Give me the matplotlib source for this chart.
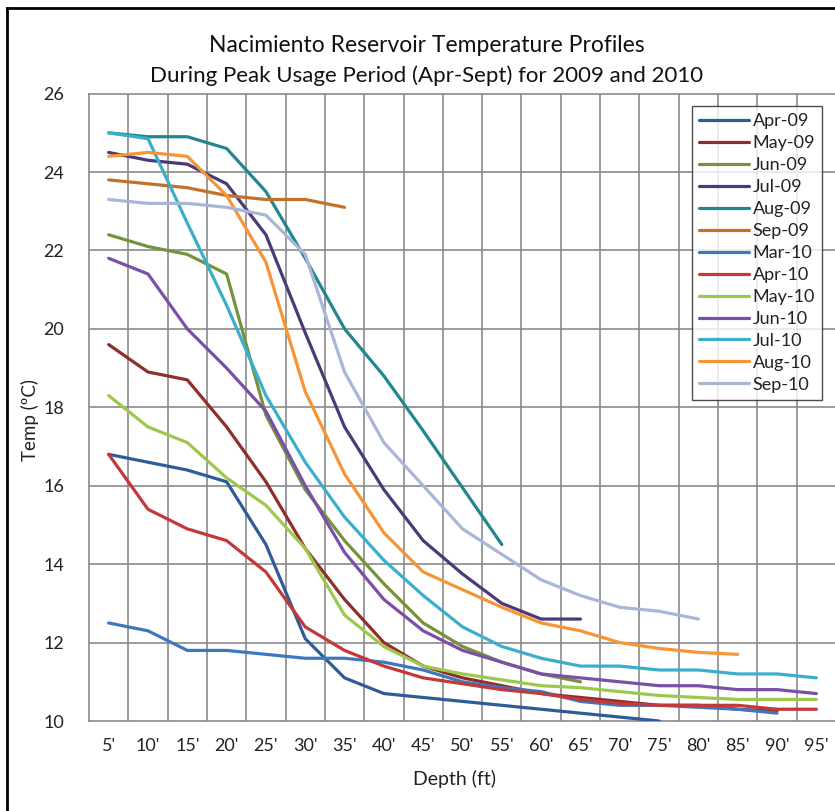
import numpy as np
import matplotlib
matplotlib.use("Agg")
import matplotlib.pyplot as plt
from matplotlib.lines import Line2D

plt.rcParams['font.family'] = ['Lato', 'DejaVu Sans']

# Depth categories (x axis)
depths = ["5'", "10'", "15'", "20'", "25'", "30'", "35'", "40'", "45'", "50'",
          "55'", "60'", "65'", "70'", "75'", "80'", "85'", "90'", "95'"]

# Temperature profiles (deg C), one value per depth, shorter lists stop early
apr09 = [16.8, 16.6, 16.4, 16.1, 14.5, 12.1, 11.1, 10.7, 10.6, 10.5, 10.4, 10.3, 10.2, 10.1, 10.0]
may09 = [19.6, 18.9, 18.7, 17.5, 16.1, 14.4, 13.1, 12.0, 11.4, 11.1, 10.9, 10.7, 10.6, 10.5,
         10.4, 10.4, 10.3, 10.25]
jun09 = [22.4, 22.1, 21.9, 21.4, 17.8, 15.9, 14.6, 13.5, 12.5, 11.9, 11.5, 11.2, 11.0]
jul09 = [24.5, 24.3, 24.2, 23.7, 22.4, 19.9, 17.5, 15.9, 14.6, 13.75, 13.0, 12.6, 12.6]
aug09 = [25.0, 24.9, 24.9, 24.6, 23.5, 21.8, 20.0, 18.8, 17.4, 15.95, 14.5]
sep09 = [23.8, 23.7, 23.6, 23.4, 23.3, 23.3, 23.1]
mar10 = [12.5, 12.3, 11.8, 11.8, 11.7, 11.6, 11.6, 11.5, 11.3, 11.0, 10.85, 10.75, 10.5, 10.4,
         10.4, 10.35, 10.3, 10.2]
apr10 = [16.8, 15.4, 14.9, 14.6, 13.8, 12.4, 11.8, 11.4, 11.1, 10.95, 10.8, 10.7, 10.55, 10.45,
         10.4, 10.4, 10.4, 10.3, 10.3]
may10 = [18.3, 17.5, 17.1, 16.2, 15.5, 14.4, 12.7, 11.9, 11.4, 11.2, 11.05, 10.9, 10.85, 10.75,
         10.65, 10.6, 10.55, 10.55, 10.55]
jun10 = [21.8, 21.4, 20.0, 19.0, 17.9, 16.0, 14.3, 13.1, 12.3, 11.8, 11.5, 11.2, 11.1, 11.0,
         10.9, 10.9, 10.8, 10.8, 10.7]
jul10 = [25.0, 24.85, 22.7, 20.6, 18.3, 16.6, 15.2, 14.1, 13.2, 12.4, 11.9, 11.6, 11.4, 11.4,
         11.3, 11.3, 11.2, 11.2, 11.1]
aug10 = [24.4, 24.5, 24.4, 23.4, 21.7, 18.4, 16.3, 14.8, 13.8, 13.35, 12.9, 12.5, 12.3, 12.0,
         11.85, 11.75, 11.7]
sep10 = [23.3, 23.2, 23.2, 23.1, 22.9, 21.9, 18.9, 17.1, 16.0, 14.9, 14.25, 13.6, 13.2, 12.9,
         12.8, 12.6]

series_names = ["Apr-09", "May-09", "Jun-09", "Jul-09", "Aug-09", "Sep-09", "Mar-10",
                "Apr-10", "May-10", "Jun-10", "Jul-10", "Aug-10", "Sep-10"]
series_vals = [apr09, may09, jun09, jul09, aug09, sep09, mar10,
               apr10, may10, jun10, jul10, aug10, sep10]
colors = ["#2E5C99", "#8E2F2B", "#76933C", "#4B3A78", "#23868F", "#C37128", "#3C78C0",
          "#C5383A", "#9DC84C", "#7A4FA8", "#3AAFCB", "#F79436", "#A9B6D8"]

W, H = 835, 811
fig = plt.figure(figsize=(W / 100, H / 100), dpi=100)
ax = fig.add_axes([89 / W, 1 - 721 / H, (836 - 89) / W, (721 - 93.6) / H])

for name, vals, c in zip(series_names, series_vals, colors):
    ax.plot(np.arange(len(vals)), vals, color=c, lw=2.3, label=name,
            solid_joinstyle='round', solid_capstyle='round', zorder=3)

ax.set_xlim(-0.5, len(depths) - 0.5)
ax.set_ylim(10, 26)
ax.set_xticks(np.arange(len(depths)))
ax.set_xticklabels(depths)
ax.set_yticks(np.arange(10, 27, 2))

# gridlines: horizontal at major ticks, vertical between categories
grid_c = "#8A8A8A"
for y in range(12, 26, 2):
    ax.axhline(y, color=grid_c, lw=1.2, zorder=1)
for k in range(1, len(depths)):
    ax.axvline(k - 0.5, color=grid_c, lw=1.2, zorder=1)
for s in ax.spines.values():
    s.set_color(grid_c)
    s.set_linewidth(1.2)

ax.tick_params(axis='both', length=0, labelsize=13, colors="#222222")
ax.tick_params(axis='x', pad=12)
ax.tick_params(axis='y', pad=18)

fig.text(30 / W, 1 - 420 / H, "Temp (ºC)", rotation=90, ha='center', va='center',
         fontsize=13.5, color="#222222")
fig.text(455 / W, 1 - 779 / H, "Depth (ft)", ha='center', va='center',
         fontsize=14, color="#222222")
fig.text(427 / W, 1 - 45 / H, "Nacimiento Reservoir Temperature Profiles",
         ha='center', va='center', fontsize=16.5, color="#111111")
fig.text(427 / W, 1 - 76 / H, "During Peak Usage Period (Apr-Sept) for 2009 and 2010",
         ha='center', va='center', fontsize=16, color="#111111")

leg = ax.legend(loc='upper left', bbox_to_anchor=((692 - 89) / (836 - 89), 1 - (106 - 93.6) / (721 - 93.6)),
                fontsize=13, frameon=True, fancybox=False, borderpad=0.4,
                labelspacing=0.33, handlelength=2.75, handletextpad=0.2,
                borderaxespad=0)
leg.get_frame().set_edgecolor("#222222")
leg.get_frame().set_linewidth(1.0)
for t in leg.get_texts():
    t.set_color("#222222")

# outer chart border (left and top edges visible)
fig.add_artist(Line2D([7 / W, 7 / W], [0, 1 - 8 / H], color='black', lw=2))
fig.add_artist(Line2D([7 / W, 1], [1 - 8 / H, 1 - 8 / H], color='black', lw=2))

fig.savefig("out.png", dpi=100)
